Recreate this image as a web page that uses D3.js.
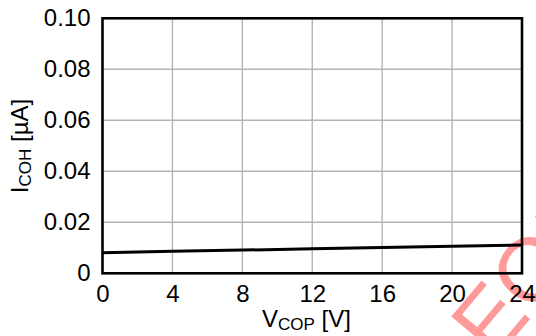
<!DOCTYPE html>
<html><head><meta charset="utf-8">
<script src="https://cdn.jsdelivr.net/npm/d3@7"></script>
<style>body{margin:0;background:#fff}svg{display:block}text{font-family:"Liberation Sans",Arial,sans-serif;fill:#000}</style>
</head><body><div id="c"></div>
<script>
const xValues = [0, 4, 8, 12, 16, 20, 24];
const iCOH = [0.0081, 0.0086, 0.0091, 0.0096, 0.0101, 0.0106, 0.0111];
const xTicks = [0, 4, 8, 12, 16, 20, 24];
const yTicks = [0, 0.02, 0.04, 0.06, 0.08, 0.10];
const yTickLabels = ["0", "0.02", "0.04", "0.06", "0.08", "0.10"];

const W = 536, H = 336;
const svg = d3.select("#c").append("svg").attr("width", W).attr("height", H);
const x = d3.scaleLinear().domain([0, 24]).range([102.5, 522]);
const y = d3.scaleLinear().domain([0, 0.1]).range([273.3, 18.3]);

// watermark
const wm = svg.append("g").attr("transform", "translate(494,362) rotate(-50)");
wm.append("text").text("EOL").attr("x", 0).attr("y", 0)
  .style("font-size", "90px")
  .style("fill", "#ff9a9a");

// grid
svg.append("g").selectAll("line").data(xTicks.slice(1, -1)).join("line")
  .attr("x1", d => x(d)).attr("x2", d => x(d)).attr("y1", y(0)).attr("y2", y(0.1))
  .attr("stroke", "#b4b4b4").attr("stroke-width", 1.4);
svg.append("g").selectAll("line").data(yTicks.slice(1, -1)).join("line")
  .attr("x1", x(0)).attr("x2", x(24)).attr("y1", d => y(d)).attr("y2", d => y(d))
  .attr("stroke", "#b4b4b4").attr("stroke-width", 1.4);

// axes (labels only)
const xAxis = svg.append("g").attr("transform", `translate(0,${y(0)})`)
  .call(d3.axisBottom(x).tickValues(xTicks).tickSize(0).tickPadding(12).tickFormat(d3.format("d")));
xAxis.select(".domain").remove();
xAxis.selectAll("text").style("font-size", "24px");
const yAxis = svg.append("g").attr("transform", `translate(${x(0)},0)`)
  .call(d3.axisLeft(y).tickValues(yTicks).tickSize(0).tickPadding(12).tickFormat((d, i) => yTickLabels[i]));
yAxis.select(".domain").remove();
yAxis.selectAll("text").style("font-size", "24px");

// data line
svg.append("path").datum(xValues.map((v, i) => [v, iCOH[i]]))
  .attr("d", d3.line().x(d => x(d[0])).y(d => y(d[1])))
  .attr("fill", "none").attr("stroke", "#000").attr("stroke-width", 3);

// frame
svg.append("rect").attr("x", x(0)).attr("y", y(0.1)).attr("width", x(24) - x(0)).attr("height", y(0) - y(0.1))
  .attr("fill", "none").attr("stroke", "#000").attr("stroke-width", 2.6);

// titles
const xt = svg.append("text").attr("x", 262).attr("y", 327).style("font-size", "24px");
xt.append("tspan").text("V");
xt.append("tspan").text("COP").style("font-size", "17px").attr("dy", 3);
xt.append("tspan").text(" [V]").attr("dy", -3);

const yt = svg.append("text").attr("transform", "translate(28,146) rotate(-90)").attr("text-anchor", "middle").style("font-size", "24px");
yt.append("tspan").text("I");
yt.append("tspan").text("COH").style("font-size", "17px").attr("dy", 3);
yt.append("tspan").text(" [µA]").attr("dy", -3);
</script></body></html>
